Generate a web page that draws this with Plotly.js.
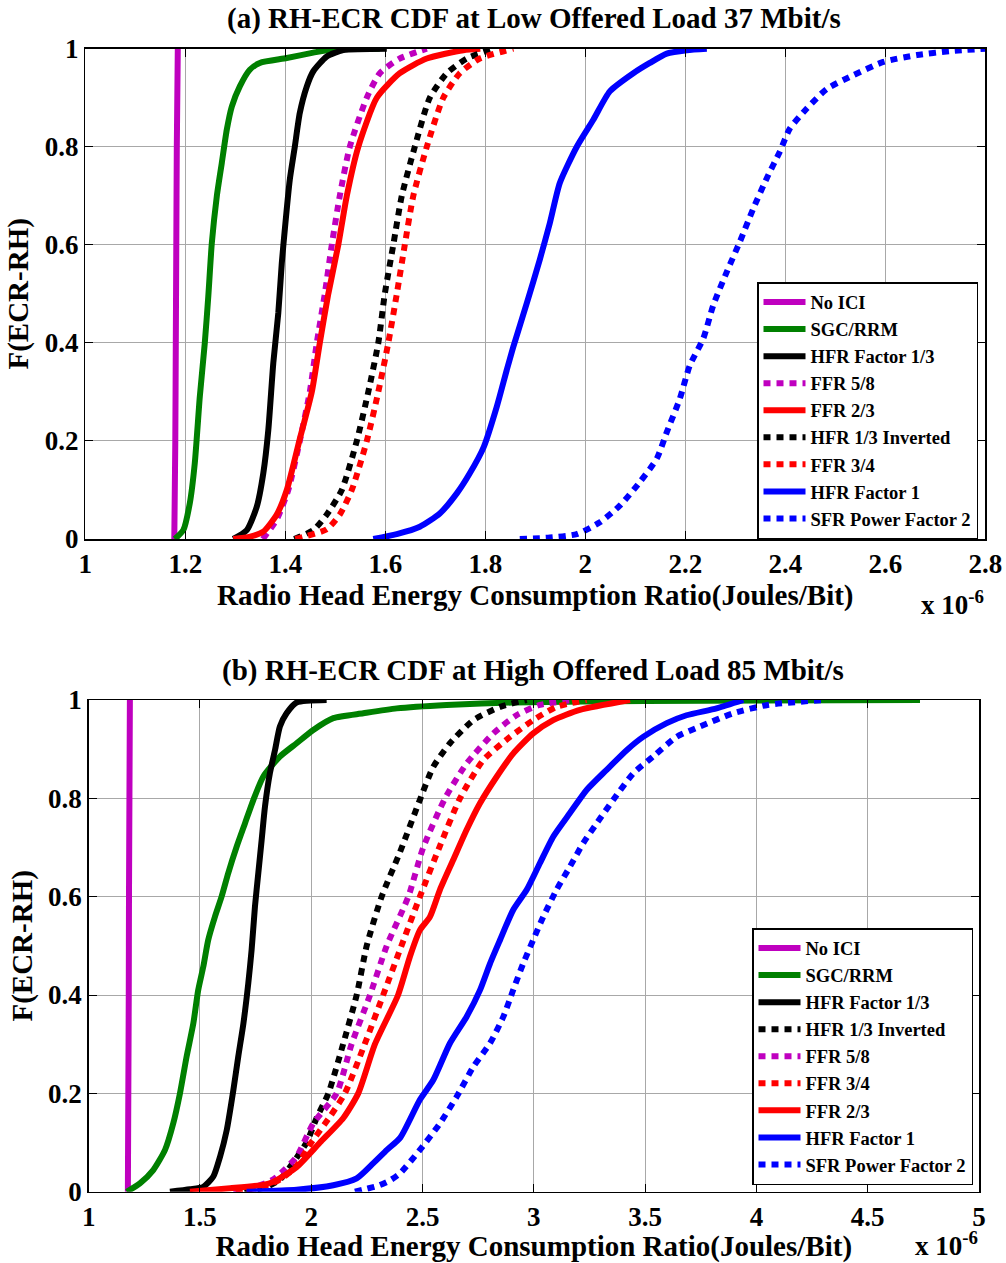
<!DOCTYPE html>
<html>
<head>
<meta charset="utf-8">
<script src="https://cdn.plot.ly/plotly-3.0.1.min.js"></script>
<style>html,body{margin:0;padding:0;background:#fff;}#chart{width:1006px;height:1263px;}</style>
</head>
<body>
<div id="chart"></div>
<script>
// ---------- Panel (a): Low offered load 37 Mbit/s (x in units of 1e-6 J/bit) ----------
const aNoIciX = [1.178, 1.180, 1.181, 1.182, 1.183, 1.185];
const aNoIciY = [0, 0.2, 0.4, 0.6, 0.8, 1];
const aSgcX = [1.179, 1.196, 1.209, 1.219, 1.229, 1.239, 1.246, 1.253, 1.263, 1.273, 1.283, 1.293, 1.309, 1.329, 1.349, 1.403, 1.456, 1.496, 1.589];
const aSgcY = [0, 0.018, 0.073, 0.155, 0.29, 0.40, 0.495, 0.603, 0.699, 0.767, 0.835, 0.882, 0.923, 0.957, 0.971, 0.981, 0.992, 0.999, 1];
const aHfr13X = [1.296, 1.323, 1.343, 1.356, 1.366, 1.376, 1.386, 1.393, 1.399, 1.409, 1.419, 1.429, 1.443, 1.456, 1.483, 1.516, 1.603];
const aHfr13Y = [0, 0.018, 0.066, 0.134, 0.222, 0.359, 0.461, 0.563, 0.631, 0.733, 0.80, 0.869, 0.923, 0.954, 0.984, 0.997, 1];
const aFfr58X = [1.355, 1.383, 1.406, 1.429, 1.449, 1.463, 1.479, 1.493, 1.509, 1.529, 1.563, 1.589, 1.629, 1.683];
const aFfr58Y = [0, 0.04, 0.1, 0.2, 0.3, 0.4, 0.5, 0.6, 0.7, 0.8, 0.9, 0.95, 0.98, 1];
const aFfr23X = [1.296, 1.330, 1.356, 1.383, 1.403, 1.428, 1.453, 1.469, 1.486, 1.506, 1.523, 1.546, 1.583, 1.629, 1.683, 1.756, 1.79];
const aFfr23Y = [0, 0.005, 0.015, 0.05, 0.1, 0.2, 0.3, 0.4, 0.5, 0.6, 0.7, 0.8, 0.9, 0.95, 0.98, 0.997, 1];
const aHfrInvX = [1.418, 1.456, 1.483, 1.513, 1.543, 1.566, 1.586, 1.599, 1.616, 1.633, 1.659, 1.689, 1.723, 1.763, 1.816];
const aHfrInvY = [0, 0.018, 0.05, 0.1, 0.2, 0.3, 0.4, 0.5, 0.6, 0.7, 0.8, 0.9, 0.95, 0.98, 1];
const aFfr34X = [1.42, 1.483, 1.509, 1.533, 1.563, 1.586, 1.606, 1.623, 1.639, 1.656, 1.683, 1.716, 1.749, 1.789, 1.856];
const aFfr34Y = [0, 0.02, 0.05, 0.1, 0.2, 0.3, 0.4, 0.5, 0.6, 0.7, 0.8, 0.9, 0.95, 0.98, 1];
const aHfr1X = [1.576, 1.623, 1.669, 1.709, 1.743, 1.769, 1.797, 1.823, 1.843, 1.856, 1.883, 1.909, 1.929, 1.949, 1.983, 2.016, 2.049, 2.096, 2.129, 2.163, 2.203, 2.243];
const aHfr1Y = [0, 0.01, 0.025, 0.052, 0.093, 0.134, 0.188, 0.27, 0.345, 0.392, 0.481, 0.57, 0.644, 0.726, 0.80, 0.855, 0.913, 0.95, 0.971, 0.99, 0.997, 1];
const aSfrX = [1.869, 1.929, 1.983, 2.029, 2.069, 2.109, 2.143, 2.163, 2.189, 2.209, 2.236, 2.256, 2.283, 2.309, 2.336, 2.363, 2.389, 2.409, 2.443, 2.483, 2.536, 2.596, 2.663, 2.729, 2.80];
const aSfrY = [0, 0.003, 0.01, 0.034, 0.068, 0.116, 0.164, 0.218, 0.286, 0.354, 0.409, 0.477, 0.545, 0.606, 0.674, 0.736, 0.79, 0.837, 0.878, 0.918, 0.946, 0.973, 0.987, 0.995, 1];

// ---------- Panel (b): High offered load 85 Mbit/s ----------
const bNoIciX = [1.176, 1.178, 1.180, 1.181, 1.183, 1.185];
const bNoIciY = [0, 0.2, 0.4, 0.6, 0.8, 1];
const bSgcX = [1.171, 1.230, 1.290, 1.343, 1.380, 1.410, 1.440, 1.470, 1.492, 1.515, 1.537, 1.567, 1.597, 1.627, 1.665, 1.702, 1.740, 1.784, 1.859, 1.934, 2.009, 2.099, 2.234, 2.384, 2.608, 2.908, 3.5, 4.735];
const bSgcY = [0, 0.017, 0.044, 0.085, 0.139, 0.20, 0.275, 0.342, 0.41, 0.458, 0.512, 0.559, 0.60, 0.648, 0.702, 0.749, 0.797, 0.844, 0.885, 0.912, 0.939, 0.963, 0.973, 0.983, 0.99, 0.995, 0.998, 1];
const bHfr13X = [1.365, 1.455, 1.515, 1.560, 1.590, 1.620, 1.650, 1.672, 1.695, 1.717, 1.732, 1.747, 1.762, 1.777, 1.792, 1.814, 1.837, 1.859, 1.889, 1.934, 2.069];
const bHfr13Y = [0, 0.005, 0.01, 0.031, 0.071, 0.125, 0.207, 0.275, 0.342, 0.424, 0.492, 0.58, 0.648, 0.715, 0.783, 0.851, 0.898, 0.946, 0.973, 0.995, 1];
const bHfrInvX = [1.70, 1.80, 1.86, 1.904, 1.979, 2.024, 2.077, 2.143, 2.204, 2.249, 2.316, 2.398, 2.488, 2.548, 2.623, 2.728, 2.848, 2.968];
const bHfrInvY = [0, 0.01, 0.025, 0.05, 0.1, 0.15, 0.2, 0.3, 0.4, 0.5, 0.6, 0.69, 0.797, 0.864, 0.912, 0.959, 0.986, 1];
const bFfr58X = [1.65, 1.75, 1.83, 1.88, 1.934, 2.009, 2.114, 2.181, 2.264, 2.339, 2.436, 2.503, 2.601, 2.698, 2.818, 2.922, 3.027, 3.18];
const bFfr58Y = [0, 0.01, 0.025, 0.045, 0.071, 0.139, 0.2, 0.3, 0.4, 0.5, 0.6, 0.7, 0.8, 0.871, 0.932, 0.969, 0.99, 1];
const bFfr34X = [1.66, 1.78, 1.86, 1.93, 2.00, 2.08, 2.151, 2.240, 2.323, 2.405, 2.488, 2.575, 2.668, 2.773, 2.893, 2.997, 3.102, 3.237];
const bFfr34Y = [0, 0.01, 0.025, 0.05, 0.1, 0.15, 0.2, 0.3, 0.4, 0.5, 0.6, 0.7, 0.8, 0.878, 0.925, 0.959, 0.986, 1];
const bFfr23X = [1.455, 1.635, 1.784, 1.829, 1.934, 2.039, 2.144, 2.211, 2.286, 2.390, 2.443, 2.488, 2.533, 2.578, 2.638, 2.698, 2.758, 2.833, 2.907, 2.997, 3.087, 3.207, 3.432];
const bFfr23Y = [0, 0.007, 0.014, 0.02, 0.05, 0.1, 0.15, 0.2, 0.3, 0.4, 0.478, 0.532, 0.559, 0.614, 0.675, 0.736, 0.79, 0.844, 0.891, 0.932, 0.959, 0.98, 1];
const bHfr1X = [1.710, 1.934, 2.099, 2.204, 2.279, 2.340, 2.400, 2.488, 2.548, 2.623, 2.698, 2.758, 2.803, 2.848, 2.907, 2.968, 3.027, 3.087, 3.162, 3.237, 3.327, 3.417, 3.491, 3.597, 3.686, 3.821, 3.941];
const bHfr1Y = [0, 0.004, 0.013, 0.027, 0.058, 0.085, 0.11, 0.187, 0.227, 0.302, 0.356, 0.41, 0.464, 0.512, 0.573, 0.614, 0.668, 0.722, 0.77, 0.817, 0.858, 0.898, 0.925, 0.953, 0.969, 0.983, 1];
const bSfrX = [2.196, 2.25, 2.30, 2.35, 2.398, 2.488, 2.578, 2.653, 2.728, 2.803, 2.863, 2.907, 2.952, 2.997, 3.042, 3.102, 3.162, 3.222, 3.282, 3.357, 3.447, 3.536, 3.641, 3.746, 3.896, 4.05, 4.30];
const bSfrY = [0, 0.006, 0.012, 0.022, 0.037, 0.085, 0.139, 0.193, 0.254, 0.302, 0.356, 0.41, 0.464, 0.512, 0.559, 0.614, 0.661, 0.709, 0.749, 0.797, 0.851, 0.885, 0.925, 0.946, 0.973, 0.99, 1];

// ---------- Text ----------
const titleA = "(a) RH-ECR CDF at Low Offered Load 37 Mbit/s";
const titleB = "(b) RH-ECR CDF at High Offered Load 85 Mbit/s";
const xTitle = "Radio Head Energy Consumption Ratio(Joules/Bit)";
const yTitle = "F(ECR-RH)";
const xExponent = "x 10<sup>-6</sup>";

const MAG = '#bf00bf', GRN = '#008000', BLK = '#000000', RED = '#ff0000', BLU = '#0000ff';
const LW = 6, DOT = '7px,6px';
const FONT = 'Liberation Serif';

function tr(name, x, y, color, dotted, xa, ya, leg) {
  return {
    type: 'scatter', mode: 'lines', name: name, x: x, y: y,
    xaxis: xa, yaxis: ya, legend: leg,
    line: {color: color, width: LW, dash: dotted ? DOT : 'solid', shape: 'spline', smoothing: 0.6},
    hoverinfo: 'skip'
  };
}

const data = [
  tr('No ICI', aNoIciX, aNoIciY, MAG, false, 'x', 'y', 'legend'),
  tr('SGC/RRM', aSgcX, aSgcY, GRN, false, 'x', 'y', 'legend'),
  tr('HFR Factor 1/3', aHfr13X, aHfr13Y, BLK, false, 'x', 'y', 'legend'),
  tr('FFR 5/8', aFfr58X, aFfr58Y, MAG, true, 'x', 'y', 'legend'),
  tr('FFR 2/3', aFfr23X, aFfr23Y, RED, false, 'x', 'y', 'legend'),
  tr('HFR 1/3 Inverted', aHfrInvX, aHfrInvY, BLK, true, 'x', 'y', 'legend'),
  tr('FFR 3/4', aFfr34X, aFfr34Y, RED, true, 'x', 'y', 'legend'),
  tr('HFR Factor 1', aHfr1X, aHfr1Y, BLU, false, 'x', 'y', 'legend'),
  tr('SFR Power Factor 2', aSfrX, aSfrY, BLU, true, 'x', 'y', 'legend'),

  tr('No ICI', bNoIciX, bNoIciY, MAG, false, 'x2', 'y2', 'legend2'),
  tr('SGC/RRM', bSgcX, bSgcY, GRN, false, 'x2', 'y2', 'legend2'),
  tr('HFR Factor 1/3', bHfr13X, bHfr13Y, BLK, false, 'x2', 'y2', 'legend2'),
  tr('HFR 1/3 Inverted', bHfrInvX, bHfrInvY, BLK, true, 'x2', 'y2', 'legend2'),
  tr('FFR 5/8', bFfr58X, bFfr58Y, MAG, true, 'x2', 'y2', 'legend2'),
  tr('FFR 3/4', bFfr34X, bFfr34Y, RED, true, 'x2', 'y2', 'legend2'),
  tr('FFR 2/3', bFfr23X, bFfr23Y, RED, false, 'x2', 'y2', 'legend2'),
  tr('HFR Factor 1', bHfr1X, bHfr1Y, BLU, false, 'x2', 'y2', 'legend2'),
  tr('SFR Power Factor 2', bSfrX, bSfrY, BLU, true, 'x2', 'y2', 'legend2')
];

const W = 1006, H = 1263;
function axisCommon() {
  return {
    showgrid: true, gridcolor: '#a8a8a8', gridwidth: 1,
    showline: true, linecolor: '#000', linewidth: 1.5, mirror: 'ticks',
    ticks: 'inside', ticklen: 8, tickcolor: '#000', tickwidth: 1,
    zeroline: false, automargin: false, fixedrange: true,
    tickfont: {family: FONT, size: 27, weight: 'bold', color: '#000'}
  };
}
const titleFont = {family: FONT, size: 29, weight: 'bold', color: '#000'};
const legendFont = {family: FONT, size: 18.5, weight: 'bold', color: '#000'};

const layout = {
  width: W, height: H,
  margin: {l: 0, r: 0, t: 0, b: 0},
  paper_bgcolor: '#fff', plot_bgcolor: '#fff',
  font: {family: FONT, color: '#000'},
  showlegend: true,
  xaxis: Object.assign(axisCommon(), {
    domain: [85.3 / W, 985.3 / W], range: [1, 2.8], tick0: 1, dtick: 0.2, anchor: 'y',
    title: {text: xTitle, font: titleFont, standoff: 6}
  }),
  yaxis: Object.assign(axisCommon(), {
    domain: [1 - 539 / H, 1 - 48.7 / H], range: [0, 1], tick0: 0, dtick: 0.2, anchor: 'x',
    title: {text: yTitle, font: titleFont, standoff: 7}
  }),
  xaxis2: Object.assign(axisCommon(), {
    domain: [88.7 / W, 979 / W], range: [1, 5], tick0: 1, dtick: 0.5, anchor: 'y2',
    title: {text: xTitle, font: titleFont, standoff: 3}
  }),
  yaxis2: Object.assign(axisCommon(), {
    domain: [1 - 1191.7 / H, 1 - 700 / H], range: [0, 1], tick0: 0, dtick: 0.2, anchor: 'x2',
    title: {text: yTitle, font: titleFont, standoff: 7}
  }),
  legend: {
    x: 978 / W, xanchor: 'right', y: 1 - 539 / H, yanchor: 'bottom',
    bgcolor: '#fff', bordercolor: '#000', borderwidth: 1.5,
    font: legendFont, itemwidth: 42, tracegroupgap: 0, traceorder: 'normal'
  },
  legend2: {
    x: 973 / W, xanchor: 'right', y: 1 - 1185 / H, yanchor: 'bottom',
    bgcolor: '#fff', bordercolor: '#000', borderwidth: 1.5,
    font: legendFont, itemwidth: 42, tracegroupgap: 0, traceorder: 'normal'
  },
  annotations: [
    {text: titleA, xref: 'paper', yref: 'paper', x: 534 / W, y: 1 - 19 / H, xanchor: 'center', yanchor: 'middle', showarrow: false, font: titleFont},
    {text: titleB, xref: 'paper', yref: 'paper', x: 533 / W, y: 1 - 670 / H, xanchor: 'center', yanchor: 'middle', showarrow: false, font: titleFont},
    {text: xExponent, xref: 'paper', yref: 'paper', x: 986 / W, y: 1 - 603 / H, xanchor: 'right', yanchor: 'middle', showarrow: false, font: {family: FONT, size: 27, weight: 'bold', color: '#000'}},
    {text: xExponent, xref: 'paper', yref: 'paper', x: 980 / W, y: 1 - 1244 / H, xanchor: 'right', yanchor: 'middle', showarrow: false, font: {family: FONT, size: 27, weight: 'bold', color: '#000'}}
  ]
};

Plotly.newPlot('chart', data, layout, {staticPlot: true, displayModeBar: false});
</script>
</body>
</html>
